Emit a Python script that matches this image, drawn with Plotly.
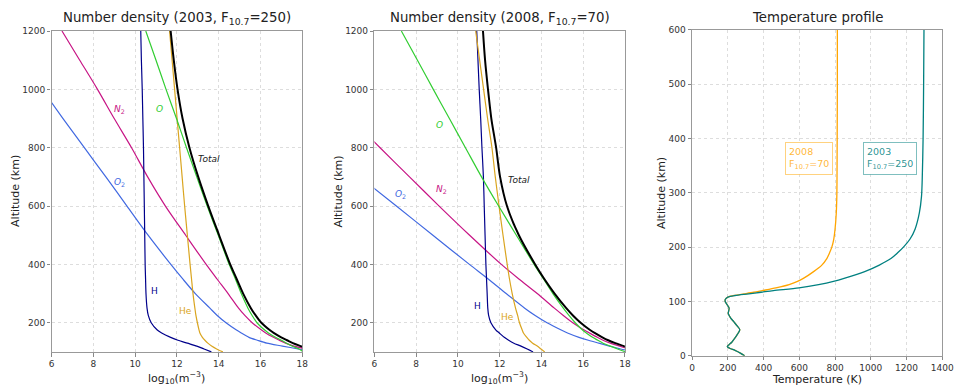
import plotly.graph_objects as go

# ---------------- data ----------------
ALT = [100, 110, 120, 130, 140, 150, 165, 175, 200, 225, 250, 300, 350, 400,
       500, 600, 700, 800, 900, 1000, 1100, 1200]

# 2003, F10.7 = 250  (log10 of number density, m^-3)
H_03 = [13.65, 13.3, 12.95, 12.5, 12.05, 11.7, 11.27, 11.06, 10.77, 10.63, 10.57, 10.52, 10.5, 10.48,
        10.46, 10.44, 10.42, 10.4, 10.37, 10.34, 10.3, 10.27]
He_03 = [14.2, 13.9, 13.66, 13.48, 13.34, 13.22, 13.1, 13.06, 12.98, 12.91, 12.86, 12.77, 12.7, 12.63,
         12.5, 12.37, 12.25, 12.13, 12.01, 11.89, 11.77, 11.65]
O_03 = [18.05, 17.85, 17.5, 17.25, 17.0, 16.72, 16.38, 16.2, 15.83, 15.6, 15.4, 15.08, 14.8, 14.5,
        13.98, 13.45, 12.95, 12.46, 11.98, 11.48, 11.0, 10.51]
N2_03 = [18.6, 18.15, 17.6, 17.2, 16.9, 16.62, 16.25, 16.05, 15.6, 15.25, 14.95, 14.45, 13.92, 13.4,
         12.42, 11.45, 10.6, 9.83, 9.0, 8.2, 7.35, 6.5]
O2_03 = [18.5, 17.8, 17.05, 16.3, 15.85, 15.45, 15.08, 14.85, 14.35, 13.93, 13.58, 12.88, 12.28, 11.71,
         10.62, 9.61, 8.6, 7.57, 6.55, 5.55, None, None]
Total_03 = [18.8, 18.3, 17.92, 17.55, 17.27, 16.99, 16.63, 16.44, 16.04, 15.77, 15.54, 15.17, 14.86, 14.55,
            14.02, 13.5, 13.02, 12.6, 12.27, 12.03, 11.85, 11.70]

# 2008, F10.7 = 70
H_08 = [13.6, 13.32, 13.02, 12.68, 12.43, 12.22, 11.98, 11.82, 11.58, 11.47, 11.43, 11.4, 11.37, 11.34,
        11.3, 11.26, 11.22, 11.15, 11.09, 11.02, 10.96, 10.9]
He_08 = [14.16, 13.98, 13.8, 13.58, 13.42, 13.3, 13.14, 13.08, 12.95, 12.86, 12.76, 12.6, 12.47, 12.36,
         12.16, 11.97, 11.79, 11.63, 11.42, 11.23, 11.04, 10.85]
O_08 = [18.05, 17.65, 17.3, 16.95, 16.7, 16.45, 16.15, 15.97, 15.62, 15.32, 15.05, 14.55, 14.1, 13.65,
        12.8, 11.95, 11.13, 10.36, 9.59, 8.82, 8.06, 7.29]
N2_08 = [18.6, 18.15, 17.75, 17.3, 16.95, 16.68, 16.3, 16.05, 15.5, 15.05, 14.62, 13.8, 12.92, 12.08,
         10.56, 9.1, 7.68, 6.27, 4.9, None, None, None]
O2_08 = [18.5, 17.8, 17.26, 16.75, 16.25, 15.8, 15.25, 14.95, 14.27, 13.7, 13.2, 12.31, 11.45, 10.55,
         8.8, 7.05, 5.3, None, None, None, None, None]
Total_08 = [18.75, 18.3, 17.95, 17.54, 17.2, 16.92, 16.55, 16.33, 15.88, 15.51, 15.19, 14.63, 14.14, 13.7,
            12.92, 12.35, 12.02, 11.83, 11.6, 11.44, 11.3, 11.2]

# temperature profile
T_ALT = [0, 5, 10, 14, 17, 20, 25, 32, 40, 48, 55, 62, 70, 78, 83, 88, 93, 100, 104, 108,
         111, 114, 117, 120, 125, 131, 137, 143, 155, 167, 179, 190, 200, 215, 233, 263,
         293, 323, 400, 500, 600]
T_2008 = [294, 270, 240, 210, 197, 205, 222, 238, 254, 267, 252, 235, 215, 202, 205, 207, 198, 185, 186, 200,
          235, 290, 345, 392, 469, 543, 590, 625, 680, 726, 754, 770, 782, 793, 800, 807,
          810, 811, 812, 813, 813]
T_2003 = [294, 270, 240, 210, 197, 205, 222, 238, 254, 267, 252, 235, 215, 202, 205, 207, 198, 185, 186, 200,
          240, 317, 386, 455, 598, 708, 791, 855, 966, 1048, 1113, 1152, 1183, 1220, 1248, 1272,
          1284, 1288, 1293, 1296, 1298]

X_TICKS = [6, 8, 10, 12, 14, 16, 18]
Y_TICKS = [200, 400, 600, 800, 1000, 1200]
T_TICKS = [0, 200, 400, 600, 800, 1000, 1200, 1400]
TA_TICKS = [0, 100, 200, 300, 400, 500, 600]

# ---------------- styles ----------------
W, Hh = 967, 392
FONT = "DejaVu Sans"
C = dict(H="#00008B", He="#DAA520", O="#32CD32", N2="#C71585", O2="#4169E1", Total="black")
C08 = "#FFA500"
C03 = "#008080"

def px_x(p):
    return p / W

def px_y(p):
    return 1 - p / Hh

fig = go.Figure()

def add_density(xa, ya, series):
    for name, vals in series:
        fig.add_trace(go.Scatter(
            x=vals, y=ALT, mode="lines", xaxis=xa, yaxis=ya,
            line=dict(color=C[name], width=2.0 if name == "Total" else 1.2,
                      shape="spline", smoothing=0.8),
            showlegend=False, hoverinfo="skip"))

add_density("x", "y", [("O2", O2_03), ("N2", N2_03), ("H", H_03), ("He", He_03),
                       ("O", O_03), ("Total", Total_03)])
add_density("x2", "y2", [("O2", O2_08), ("N2", N2_08), ("H", H_08), ("He", He_08),
                         ("O", O_08), ("Total", Total_08)])

fig.add_trace(go.Scatter(x=T_2008, y=T_ALT, mode="lines", xaxis="x3", yaxis="y3",
                         line=dict(color=C08, width=1.3, shape="spline", smoothing=0.8),
                         showlegend=False, hoverinfo="skip"))
fig.add_trace(go.Scatter(x=T_2003, y=T_ALT, mode="lines", xaxis="x3", yaxis="y3",
                         line=dict(color=C03, width=1.3, shape="spline", smoothing=0.8),
                         showlegend=False, hoverinfo="skip"))

axis_common = dict(showline=True, mirror=True, linecolor="#999999", linewidth=1.2,
                   ticks="outside", ticklen=3.5, tickcolor="#888888",
                   tickfont=dict(family=FONT, size=9, color="#333333"),
                   showgrid=True, gridcolor="#dddddd", griddash="dot", gridwidth=1,
                   zeroline=False)

dy12 = [px_y(356), px_y(26.7)]
dy3 = [px_y(360), px_y(25.5)]

fig.update_layout(
    width=W, height=Hh, autosize=False,
    margin=dict(l=0, r=0, t=0, b=0),
    paper_bgcolor="white", plot_bgcolor="white",
    xaxis=dict(domain=[px_x(49.3), px_x(304)], range=[6, 18], tickvals=X_TICKS, anchor="y", **axis_common),
    yaxis=dict(domain=dy12, range=[100, 1200], tickvals=Y_TICKS, anchor="x", **axis_common),
    xaxis2=dict(domain=[px_x(377.3), px_x(631.7)], range=[6, 18], tickvals=X_TICKS, anchor="y2", **axis_common),
    yaxis2=dict(domain=dy12, range=[100, 1200], tickvals=Y_TICKS, anchor="x2", **axis_common),
    xaxis3=dict(domain=[px_x(700), px_x(954)], range=[0, 1400], tickvals=T_TICKS, anchor="y3", **axis_common),
    yaxis3=dict(domain=dy3, range=[0, 600], tickvals=TA_TICKS, anchor="x3", **axis_common),
)

ann = []

def text(x, y, s, size, color="#222222", xref="paper", yref="paper", angle=0, **kw):
    d = dict(x=x, y=y, xref=xref, yref=yref, text=s, showarrow=False,
             font=dict(family=FONT, size=size, color=color),
             xanchor="center", yanchor="middle", textangle=angle)
    d.update(kw)
    ann.append(d)

# titles
text(px_x(176.7), px_y(14), "Number density (2003, F<sub>10.7</sub>=250)", 13.3)
text(px_x(504.5), px_y(14), "Number density (2008, F<sub>10.7</sub>=70)", 13.3)
text(px_x(827), px_y(13), "Temperature profile", 13.3)

# axis labels
text(px_x(12), px_y(191), "Altitude (km)", 11, angle=-90)
text(px_x(340.7), px_y(191), "Altitude (km)", 11, angle=-90)
text(px_x(668.3), px_y(193), "Altitude (km)", 11, angle=-90)
text(px_x(176.7), px_y(383), "log<sub>10</sub>(m<sup>−3</sup>)", 11, borderpad=0)
text(px_x(504.5), px_y(383), "log<sub>10</sub>(m<sup>−3</sup>)", 11, borderpad=0)
text(px_x(827), px_y(384.5), "Temperature (K)", 11, borderpad=0)

# species labels
LBL = 9
for xr, yr, pts in [("x", "y", [(9.23, 932, "<i>N</i><sub>2</sub>", "N2"), (11.16, 932, "<i>O</i>", "O"),
                                 (13.52, 761, "<i>Total</i>", "Total"), (9.23, 681, "<i>O</i><sub>2</sub>", "O2"),
                                 (10.93, 310, "H", "H"), (12.39, 240, "He", "He")]),
                    ("x2", "y2", [(9.14, 879, "<i>O</i>", "O"), (9.23, 658, "<i>N</i><sub>2</sub>", "N2"),
                                  (7.25, 641, "<i>O</i><sub>2</sub>", "O2"), (12.92, 688, "<i>Total</i>", "Total"),
                                  (10.94, 259, "H", "H"), (12.37, 220, "He", "He")])]:
    for x, y, s, k in pts:
        col = "#222222" if k == "Total" else C[k]
        text(x, y, s, LBL, color=col, xref=xr, yref=yr)

# temperature boxes
text(653, 363, "2008<br>F<sub>10.7</sub>=70", 9.5, color="rgba(255,165,0,0.8)", xref="x3", yref="y3",
     align="left", bordercolor="rgba(255,165,0,0.5)", borderwidth=1, borderpad=3, bgcolor="white")
text(1108, 363, "2003<br>F<sub>10.7</sub>=250", 9.5, color="rgba(0,128,128,0.85)", xref="x3", yref="y3",
     align="left", bordercolor="rgba(0,128,128,0.5)", borderwidth=1, borderpad=3, bgcolor="white")

fig.update_layout(annotations=ann)
fig.write_html("out.html", config={"responsive": False})
